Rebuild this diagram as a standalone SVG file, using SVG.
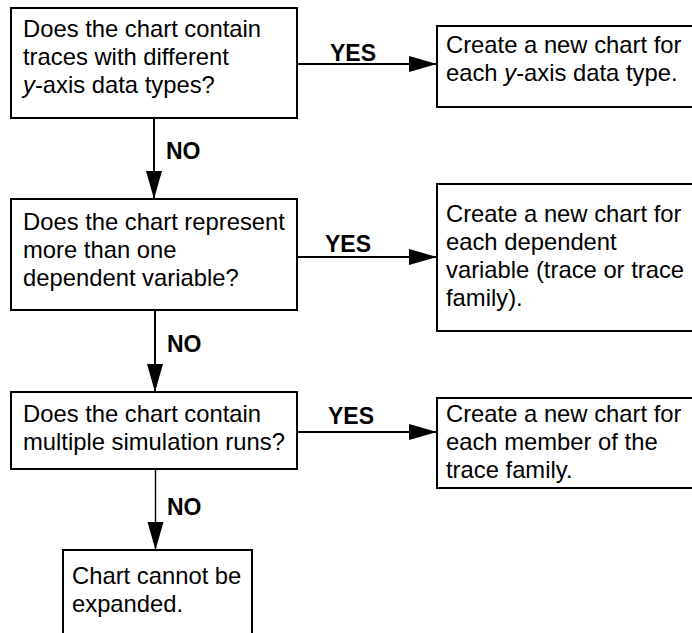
<svg xmlns="http://www.w3.org/2000/svg" width="692" height="633" viewBox="0 0 692 633">
<style>
  .box{fill:#fff;stroke:#000;stroke-width:2}
  .t{font-family:"Liberation Sans",Arial,sans-serif;font-size:23.8px;fill:#000}
  .lbl{font-family:"Liberation Sans",Arial,sans-serif;font-size:23px;font-weight:bold;fill:#000}
  .c{stroke:#000;stroke-width:2;fill:none}
  .c1{stroke:#000;stroke-width:1.4;fill:none}
</style>
<defs>
  <marker id="ah" markerWidth="30" markerHeight="18" refX="28" refY="8" orient="auto" markerUnits="userSpaceOnUse">
    <path d="M0,0 L28,8 L0,16 Z" fill="#000"/>
  </marker>
</defs>
<rect width="692" height="633" fill="#fff"/>
<g id="connectors">
  <line class="c" x1="297" y1="64" x2="437" y2="64" marker-end="url(#ah)"/>
  <line class="c" x1="154" y1="118" x2="154" y2="199" marker-end="url(#ah)"/>
  <line class="c" x1="297" y1="257" x2="437" y2="257" marker-end="url(#ah)"/>
  <line class="c" x1="155" y1="310" x2="155" y2="392" marker-end="url(#ah)"/>
  <line class="c" x1="297" y1="432" x2="437" y2="432" marker-end="url(#ah)"/>
  <line class="c1" x1="155.5" y1="469" x2="155.5" y2="550" marker-end="url(#ah)"/>
  <text class="lbl" x="330" y="61">YES</text>
  <text class="lbl" x="166" y="159">NO</text>
  <text class="lbl" x="325" y="252">YES</text>
  <text class="lbl" x="167" y="352">NO</text>
  <text class="lbl" x="328" y="424">YES</text>
  <text class="lbl" x="167" y="515">NO</text>
</g>
<g id="q1">
  <rect class="box" x="11" y="8" width="286" height="110"/>
  <text class="t" x="23" y="37">Does the chart contain</text>
  <text class="t" x="23" y="65">traces with different</text>
  <text class="t" x="23" y="93"><tspan font-style="italic">y</tspan>-axis data types?</text>
</g>
<g id="a1">
  <rect class="box" x="437" y="26" width="270" height="81"/>
  <text class="t" x="446" y="53">Create a new chart for</text>
  <text class="t" x="446" y="81">each <tspan font-style="italic">y</tspan>-axis data type.</text>
</g>
<g id="q2">
  <rect class="box" x="11" y="199" width="286" height="111"/>
  <text class="t" x="23" y="230">Does the chart represent</text>
  <text class="t" x="23" y="258">more than one</text>
  <text class="t" x="23" y="286">dependent variable?</text>
</g>
<g id="a2">
  <rect class="box" x="437" y="184" width="270" height="147"/>
  <text class="t" x="446" y="222">Create a new chart for</text>
  <text class="t" x="446" y="250">each dependent</text>
  <text class="t" x="446" y="278">variable (trace or trace</text>
  <text class="t" x="446" y="306">family).</text>
</g>
<g id="q3">
  <rect class="box" x="11" y="392" width="286" height="77"/>
  <text class="t" x="23" y="422">Does the chart contain</text>
  <text class="t" x="23" y="450">multiple simulation runs?</text>
</g>
<g id="a3">
  <rect class="box" x="437" y="398" width="270" height="90"/>
  <text class="t" x="446" y="422">Create a new chart for</text>
  <text class="t" x="446" y="450">each member of the</text>
  <text class="t" x="446" y="478">trace family.</text>
</g>
<g id="end">
  <rect class="box" x="63" y="550" width="189" height="100"/>
  <text class="t" x="72" y="584">Chart cannot be</text>
  <text class="t" x="72" y="612">expanded.</text>
</g>
</svg>
